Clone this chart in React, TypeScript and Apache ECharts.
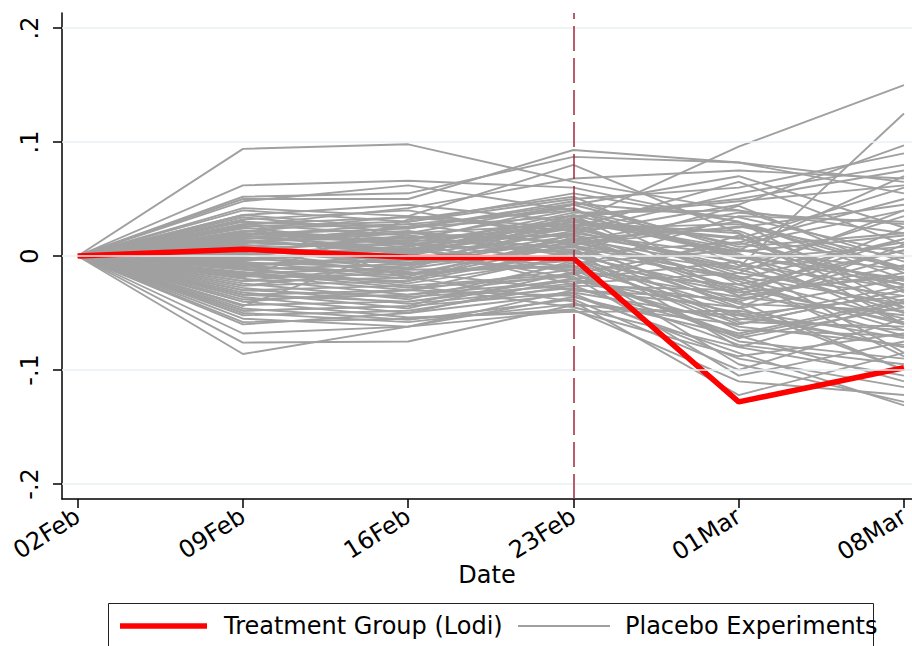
import React, { useEffect, useRef } from "react";
import * as echarts from "echarts";

// Dates (days since 02Feb) and their tick labels
const dayOffsets = [0, 7, 14, 21, 28, 35];
const dateLabels = ["02Feb", "09Feb", "16Feb", "23Feb", "01Mar", "08Mar"];
const yTicks = [-0.2, -0.1, 0, 0.1, 0.2];
const yTickLabels = ["-.2", "-.1", "0", ".1", ".2"];
const treatmentDay = 21;

// Treatment group (Lodi)
const treatment = [0, 0.006, -0.001, -0.002, -0.128, -0.098];

// Placebo experiments: value of each placebo line at each date (all start at 0 on 02Feb)
const placebo09Feb = [
  0.094, 0.062, 0.052, 0.05, 0.048, 0.042, 0.04, 0.036, 0.034, 0.032,
  0.03, 0.028, 0.026, 0.025, 0.024, 0.022, 0.021, 0.02, 0.019, 0.018,
  0.017, 0.016, 0.015, 0.014, 0.013, 0.012, 0.011, 0.01, 0.009, 0.008,
  0.007, 0.006, 0.005, 0.004, 0.003, 0.002, 0.001, 0.0, -0.001, -0.002,
  -0.003, -0.004, -0.005, -0.006, -0.007, -0.008, -0.009, -0.01, -0.011, -0.012,
  -0.014, -0.015, -0.017, -0.018, -0.02, -0.022, -0.024, -0.026, -0.028, -0.03,
  -0.032, -0.034, -0.036, -0.038, -0.04, -0.043, -0.046, -0.048, -0.05, -0.052,
  -0.055, -0.058, -0.06, -0.068, -0.076, -0.086, 0.027, -0.019, 0.031, -0.044,
  0.012, -0.008, 0.022, -0.016, 0.004, -0.026, 0.018, -0.034, 0.008, -0.004,
  0.028, -0.04, 0.002, -0.022, 0.036, -0.012, 0.014, -0.03, 0.02, -0.048,
];
const placebo16Feb = [
  0.098, 0.066, 0.055, 0.05, 0.062, 0.035, 0.03, 0.045, 0.02, 0.04,
  0.025, 0.018, 0.03, 0.01, 0.028, 0.015, 0.035, 0.012, 0.024, 0.005,
  0.02, 0.008, 0.022, 0.002, 0.016, 0.006, 0.026, -0.004, 0.014, 0.0,
  0.011, -0.008, 0.004, 0.018, -0.012, 0.007, -0.002, 0.013, -0.015, 0.003,
  -0.006, 0.009, -0.018, -0.01, -0.003, -0.02, 0.001, -0.014, -0.024, -0.007,
  -0.028, -0.011, -0.03, -0.016, -0.034, -0.019, -0.038, -0.022, -0.042, -0.026,
  -0.046, -0.03, -0.05, -0.034, -0.054, -0.04, -0.056, -0.044, -0.058, -0.048,
  -0.062, -0.055, -0.05, -0.062, -0.075, -0.062, 0.042, 0.032, -0.02, 0.01,
  0.02, -0.004, 0.012, -0.022, 0.016, -0.012, 0.028, -0.04, -0.006, 0.006,
  0.034, -0.03, -0.016, -0.008, 0.024, -0.026, 0.004, -0.036, 0.01, -0.044,
];
const placebo23Feb = [
  0.065, 0.06, 0.087, 0.093, 0.04, 0.08, 0.05, 0.03, 0.045, 0.015,
  0.035, 0.0, 0.055, 0.02, 0.01, 0.04, 0.025, -0.005, 0.048, 0.03,
  0.012, 0.038, 0.005, 0.028, 0.018, -0.01, 0.042, 0.022, 0.008, 0.033,
  -0.015, 0.015, 0.026, 0.002, 0.036, -0.02, 0.011, 0.045, -0.008, 0.024,
  0.006, -0.025, 0.016, 0.034, -0.012, 0.004, 0.02, -0.03, -0.002, 0.027,
  -0.018, 0.009, -0.035, 0.013, -0.022, -0.04, -0.006, 0.019, -0.028, -0.045,
  -0.014, 0.001, -0.033, -0.016, -0.049, -0.024, -0.038, -0.004, -0.042, -0.026,
  -0.03, -0.047, -0.02, -0.036, -0.043, -0.048, 0.068, 0.052, 0.01, 0.03,
  0.028, 0.014, 0.032, 0.003, 0.024, -0.01, 0.04, -0.02, 0.018, 0.03,
  0.022, -0.012, -0.004, 0.008, 0.046, -0.016, 0.036, -0.026, 0.004, -0.032,
];
const placebo01Mar = [
  0.04, 0.03, 0.082, 0.082, 0.0, 0.02, 0.06, 0.096, 0.07, -0.01,
  0.05, -0.03, 0.03, 0.045, -0.045, 0.01, 0.065, -0.06, 0.005, 0.02,
  -0.02, 0.04, -0.08, 0.015, -0.005, 0.035, -0.025, 0.055, -0.04, 0.0,
  -0.07, 0.025, -0.015, 0.012, -0.035, -0.05, 0.03, 0.008, -0.095, -0.01,
  -0.055, 0.018, -0.03, 0.048, -0.075, -0.02, 0.0, -0.045, -0.065, 0.022,
  -0.105, -0.012, -0.085, 0.038, -0.04, -0.122, 0.005, -0.035, -0.068, -0.08,
  -0.025, -0.058, -0.09, 0.012, -0.048, -0.015, -0.1, -0.032, -0.06, -0.078,
  -0.038, -0.11, -0.005, -0.07, -0.052, -0.088, 0.075, -0.008, 0.026, 0.004,
  -0.018, -0.028, 0.006, -0.042, 0.028, -0.052, -0.002, -0.062, -0.022, 0.016,
  -0.012, -0.036, -0.046, -0.018, 0.034, -0.072, 0.002, -0.03, 0.044, -0.056,
];
const placebo08Mar = [
  0.02, -0.01, 0.065, 0.055, -0.04, -0.06, 0.09, 0.15, 0.025, 0.125,
  0.075, -0.07, -0.02, 0.097, -0.1, 0.04, 0.01, -0.03, 0.07, -0.05,
  0.015, -0.005, -0.04, 0.06, -0.085, 0.03, -0.06, 0.08, 0.0, -0.025,
  -0.11, 0.045, -0.035, 0.05, -0.015, -0.08, -0.045, 0.02, -0.128, 0.035,
  -0.065, -0.01, 0.005, 0.062, -0.09, -0.055, -0.02, 0.01, -0.07, -0.03,
  -0.075, -0.045, -0.131, 0.028, -0.1, -0.085, -0.012, 0.025, -0.038, -0.105,
  0.005, -0.062, -0.115, -0.025, -0.072, 0.04, -0.055, -0.018, -0.03, -0.095,
  -0.008, -0.122, -0.05, -0.04, -0.08, -0.068, 0.068, -0.028, -0.002, 0.018,
  -0.042, -0.058, -0.022, -0.048, -0.012, -0.035, 0.008, -0.078, -0.065, -0.032,
  0.012, -0.052, -0.02, -0.088, 0.002, -0.045, -0.06, 0.015, -0.015, -0.026,
];

const FONT = "'DejaVu Sans', sans-serif";
const FS = 24;

export default function App() {
  const ref = useRef<HTMLDivElement>(null);

  useEffect(() => {
    if (!ref.current) return;
    const chart = echarts.init(ref.current, undefined, { renderer: "svg" });

    const placeboCols = [placebo09Feb, placebo16Feb, placebo23Feb, placebo01Mar, placebo08Mar];
    const placeboSeries = placebo09Feb.map((_, i) => ({
      name: "Placebo Experiments",
      type: "line",
      z: 2,
      silent: true,
      showSymbol: false,
      symbol: "none",
      lineStyle: { color: "#a0a0a0", width: 1.9 },
      data: dayOffsets.map((d, k) => [d, k === 0 ? 0 : placeboCols[k - 1][i]]),
    }));

    const option: any = {
      animation: false,
      backgroundColor: "#ffffff",
      textStyle: { fontFamily: FONT },
      grid: { left: 62, right: 0, top: 13, bottom: 147, containLabel: false, outerBoundsMode: "none" },
      xAxis: {
        type: "value",
        min: -0.665,
        max: 35.34,
        name: "Date",
        nameLocation: "middle",
        nameGap: 64,
        nameMoveOverlap: false,
        nameTextStyle: { fontSize: FS, color: "#000", fontFamily: FONT },
        axisLine: { show: true, onZero: false, lineStyle: { color: "#000", width: 1.5 } },
        axisTick: { show: true, length: 9, lineStyle: { color: "#000", width: 1.5 }, customValues: dayOffsets },
        axisLabel: {
          show: true,
          customValues: dayOffsets,
          rotate: 32,
          margin: 15,
          hideOverlap: false,
          fontSize: FS,
          color: "#000",
          fontFamily: FONT,
          formatter: (v: number) => dateLabels[dayOffsets.indexOf(Math.round(v))] ?? "",
        },
        splitLine: { show: false },
      },
      yAxis: {
        type: "value",
        min: -0.2132,
        max: 0.2132,
        axisLine: { show: true, onZero: false, lineStyle: { color: "#000", width: 1.5 } },
        axisTick: { show: true, length: 9, lineStyle: { color: "#000", width: 1.5 }, customValues: yTicks },
        axisLabel: {
          show: true,
          customValues: yTicks,
          rotate: 90,
          margin: 20,
          fontSize: FS,
          color: "#000",
          fontFamily: FONT,
          formatter: (v: number) => {
            const idx = yTicks.findIndex((t) => Math.abs(t - v) < 1e-6);
            return idx >= 0 ? yTickLabels[idx] : "";
          },
        },
        splitLine: { show: false },
      },
      series: [
        {
          name: "grid",
          type: "line",
          z: 1,
          silent: true,
          data: [],
          markLine: {
            silent: true,
            symbol: "none",
            label: { show: false },
            lineStyle: { color: "#eaf2f3", width: 1.5, type: "solid" },
            data: yTicks.map((t) => ({ yAxis: t })),
          },
        },
        ...placeboSeries,
        {
          name: "Treatment Group (Lodi)",
          type: "line",
          z: 4,
          silent: true,
          showSymbol: false,
          symbol: "none",
          lineStyle: { color: "#ff0000", width: 5.5 },
          data: dayOffsets.map((d, k) => [d, treatment[k]]),
          markLine: {
            silent: true,
            symbol: "none",
            label: { show: false },
            lineStyle: { color: "#a3283c", width: 1.5, type: [25, 7] },
            data: [{ xAxis: treatmentDay }],
          },
        },
      ],
      graphic: [
        {
          type: "rect",
          shape: { x: 108.5, y: 603.5, width: 765, height: 70 },
          style: { fill: "#fff", stroke: "#222", lineWidth: 1 },
          z: 10,
        },
        {
          type: "line",
          shape: { x1: 120, y1: 626, x2: 207, y2: 626 },
          style: { stroke: "#ff0000", lineWidth: 5.5 },
          z: 11,
        },
        {
          type: "text",
          x: 224,
          y: 626,
          style: { text: "Treatment Group (Lodi)", fontSize: FS, fontFamily: FONT, fill: "#000", verticalAlign: "middle", align: "left" },
          z: 11,
        },
        {
          type: "line",
          shape: { x1: 518, y1: 626, x2: 610, y2: 626 },
          style: { stroke: "#a0a0a0", lineWidth: 1.9 },
          z: 11,
        },
        {
          type: "text",
          x: 625,
          y: 626,
          style: { text: "Placebo Experiments", fontSize: FS, fontFamily: FONT, fill: "#000", verticalAlign: "middle", align: "left" },
          z: 11,
        },
      ],
    };

    chart.setOption(option);
    return () => chart.dispose();
  }, []);

  return <div ref={ref} style={{ width: 912, height: 646, position: "absolute", left: 0, top: 0 }} />;
}
